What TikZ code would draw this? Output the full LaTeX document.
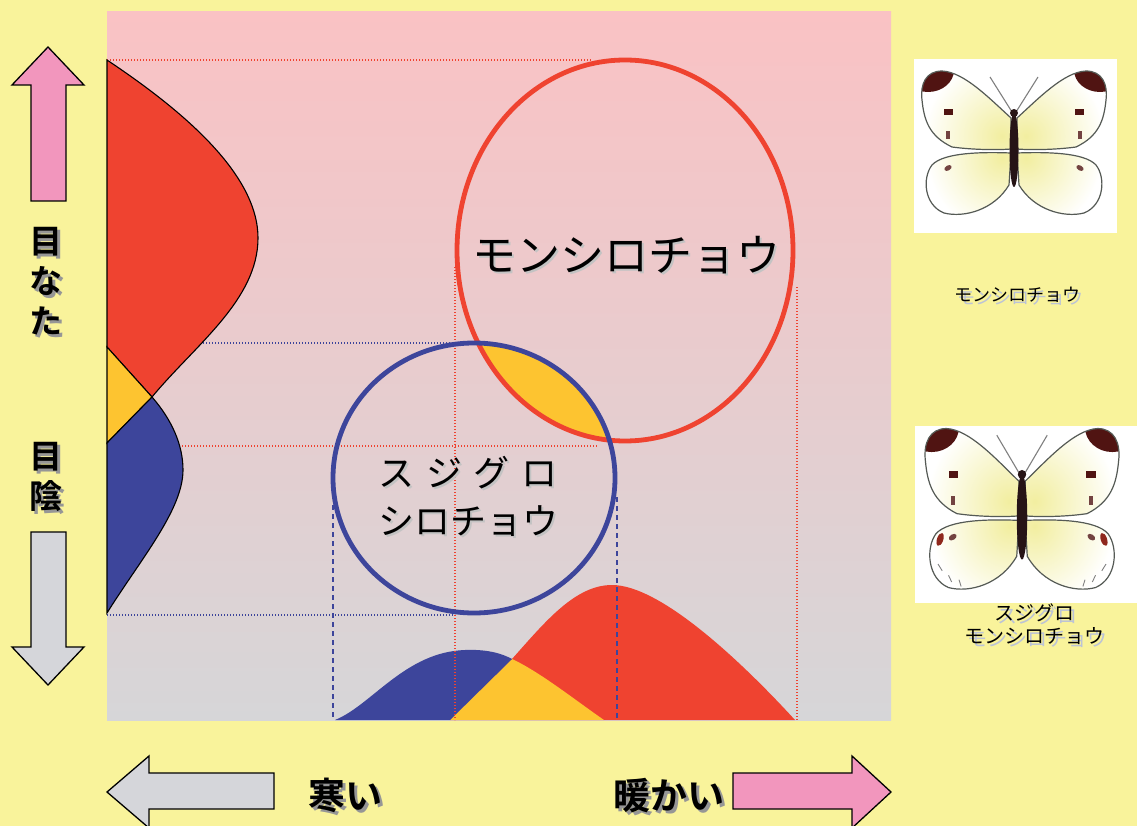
\documentclass[tikz,border=0pt]{standalone}
\usepackage{fontspec}
\newfontfamily\jp{Noto Sans CJK JP}
\newfontfamily\jpbold{Noto Sans CJK JP Bold}
\usetikzlibrary{calc}

\definecolor{bgyellow}{RGB}{249,243,155}
\definecolor{paneltop}{RGB}{250,194,196}
\definecolor{panelbot}{RGB}{214,214,216}
\definecolor{cred}{RGB}{239,67,48}
\definecolor{cblue}{RGB}{61,69,155}
\definecolor{cyel}{RGB}{253,196,48}
\definecolor{apink}{RGB}{242,150,189}
\definecolor{agray}{RGB}{213,214,218}
\definecolor{shgray}{RGB}{150,150,150}
\definecolor{shlight}{RGB}{195,195,195}
\definecolor{shblue}{RGB}{188,195,214}
\definecolor{wingfill}{RGB}{242,238,160}
\definecolor{wingline}{RGB}{85,90,85}
\definecolor{wingdark}{RGB}{80,20,18}
\definecolor{bodydark}{RGB}{38,20,22}

% text with a drop shadow: offset, shadow colour, text
\newcommand\shd[3]{\leavevmode\rlap{\kern#1\raisebox{-#1}{\color{#2}#3}}#3}

% wing outlines (left side, body centre at the origin)
\newcommand\forewing{(-3,-32) .. controls (-25,-52) and (-50,-78) .. (-72,-79)
    .. controls (-88,-79) and (-94,-66) .. (-92,-50)
    .. controls (-90,-30) and (-85,-14) .. (-62,-3)
    .. controls (-40,0) and (-15,0) .. (-3,-1) -- cycle}
\newcommand\hindwing{(-3,3) .. controls (-30,2) and (-70,2) .. (-82,15)
    .. controls (-92,28) and (-90,55) .. (-70,63)
    .. controls (-50,68) and (-20,60) .. (-5,35) -- cycle}

% one half of a butterfly
\newcommand\bfhalf{%
  \fill[white] \hindwing;
  \fill[white] \forewing;
  \begin{scope}
    \clip \hindwing;
    \shade[inner color=wingfill, outer color=white] (-12,8) circle [radius=75];
  \end{scope}
  \begin{scope}
    \clip \forewing;
    \shade[inner color=wingfill, outer color=white] (-12,-14) circle [radius=78];
    \fill[wingdark] (-86,-80) ellipse [x radius=26, y radius=22];
  \end{scope}
  \draw[wingline, line width=1.2] \hindwing;
  \draw[wingline, line width=1.2] \forewing;
  \fill[wingdark] (-70,-41) rectangle (-61,-35);
  \fill[wingdark!80] (-68,-19) rectangle (-64,-11);
  \fill[wingdark!80, rotate around={30:(-66,18)}] (-66,18) ellipse [x radius=4, y radius=2.5];
  \draw[gray, line width=1.1] (-2,-38) -- (-24,-73);
}

\tikzset{
  panelline/.style={line width=1.1, dash pattern=on 1.2pt off 1.8pt},
  bluedash/.style={cblue, line width=1.2, dash pattern=on 5pt off 4pt},
  curveedge/.style={draw=black, line width=1.1},
  blockarrow/.style={draw=black, line width=1.3, line join=miter},
  ring/.style={line width=4.8},
  biglabel/.style={font=\jp\fontsize{44}{50}\selectfont, inner sep=0},
  midlabel/.style={font=\jp\fontsize{36}{48}\selectfont, inner sep=0, align=center},
  sidelabel/.style={font=\jpbold\fontsize{33}{40}\selectfont, inner sep=0, align=center},
  axislabel/.style={font=\jpbold\fontsize{37}{40}\selectfont, inner sep=0},
  smalllabel/.style={font=\jp\fontsize{18}{23}\selectfont, inner sep=0, align=center},
}

\begin{document}
\begin{tikzpicture}[x=1pt, y=-1pt]
\useasboundingbox (0,0) rectangle (1137,826);
\fill[bgyellow] (0,0) rectangle (1137,826);

% plotting panel
\shade[top color=paneltop, bottom color=panelbot] (107,12) rectangle (891,720);

% bottom distributions (temperature)
\fill[cred] (450,720) -- (512,659) .. controls (545,622) and (575,585) .. (612,585)
  .. controls (660,585) and (740,660) .. (795,720) -- cycle;
\fill[cyel] (450,720) -- (512,659) .. controls (540,672) and (575,700) .. (604,720) -- cycle;
\fill[cblue] (335,720) .. controls (372,705) and (405,652) .. (465,650)
  .. controls (488,649) and (503,654) .. (512,659) -- (450,720) -- cycle;

% guide lines
\draw[panelline, cred]  (107,60)  -- (592,60);
\draw[panelline, cblue] (107,343) -- (453,343);
\draw[panelline, cred]  (107,446) -- (597,446);
\draw[panelline, cblue] (107,615) -- (455,615);
\draw[panelline, cred]  (455,267) -- (455,720);
\draw[panelline, cred]  (797,287) -- (797,720);
\draw[bluedash] (333,505) -- (333,720);
\draw[bluedash] (617,497) -- (617,720);

% left distributions (sunlight)
\filldraw[fill=cred, curveedge] (107,60) .. controls (185,112) and (258,175) .. (258,238)
  .. controls (258,300) and (195,345) .. (152,397) -- (107,347) -- cycle;
\filldraw[fill=cyel, curveedge] (107,347) -- (152,397) -- (107,443) -- cycle;
\filldraw[fill=cblue, curveedge] (107,443) -- (152,397) .. controls (172,420) and (183,445) .. (183,470)
  .. controls (183,510) and (140,560) .. (107,613) -- cycle;

% overlap of the two ranges
\begin{scope}
  \clip (625,250.5) ellipse [x radius=168, y radius=190.5];
  \fill[cyel] (474,478) ellipse [x radius=141, y radius=135];
\end{scope}
\draw[cred, ring]  (625,250.5) ellipse [x radius=168, y radius=190.5];
\draw[cblue, ring] (474,478) ellipse [x radius=141, y radius=135];

% range labels
\node[biglabel] (monshiro) at (626,256) {\shd{2pt}{shlight}{モンシロチョウ}};
\node[midlabel] (sujiguro) at (468,497) {\shd{2pt}{shlight}{\makebox[179pt]{ス\hfill ジ\hfill グ\hfill ロ}}\\
  \shd{2pt}{shlight}{シロチョウ}};

% axis arrows
\filldraw[fill=apink, blockarrow] (48,47) -- (84,85) -- (66,85) -- (66,201) -- (31,201) -- (31,85) -- (12,85) -- cycle;
\filldraw[fill=agray, blockarrow] (31,532) -- (66,532) -- (66,647) -- (84,647) -- (48,685) -- (12,647) -- (31,647) -- cycle;
\filldraw[fill=agray, blockarrow] (107,792) -- (149,756) -- (149,773) -- (274,773) -- (274,809) -- (149,809) -- (149,828) -- cycle;
\filldraw[fill=apink, blockarrow] (891,792) -- (852,756) -- (852,773) -- (733,773) -- (733,809) -- (852,809) -- (852,828) -- cycle;

% axis labels
\node[sidelabel] (sunny) at (46,283) {\shd{3pt}{shgray}{目}\\ \shd{3pt}{shgray}{な}\\ \shd{3pt}{shgray}{た}};
\node[sidelabel] (shade) at (46,478) {\shd{3pt}{shgray}{目}\\ \shd{3pt}{shgray}{陰}};
\node[axislabel] (cold) at (345,797) {\shd{3pt}{shgray}{寒い}};
\node[axislabel] (warm) at (669,797) {\shd{3pt}{shgray}{暖かい}};

% butterfly pictures
\fill[white] (914,59) rectangle (1117,233);
\fill[white] (915,426) rectangle (1137,603);
\begin{scope}[shift={(1014,150)}]
  \bfhalf
  \begin{scope}[xscale=-1]\bfhalf\end{scope}
  \fill[bodydark] (0,0) ellipse [x radius=4.5, y radius=37];
  \fill[bodydark] (0,-37) circle [radius=4];
\end{scope}
\begin{scope}[shift={(1022,517)}, xscale=1.05, yscale=1.12]
  \bfhalf
  \begin{scope}[xscale=-1]\bfhalf\end{scope}
  \fill[bodydark] (0,0) ellipse [x radius=5, y radius=38];
  \fill[bodydark] (0,-38) circle [radius=4];
  \foreach \s in {1,-1}{
    \begin{scope}[xscale=\s]
      \fill[cred!60!black, rotate around={-20:(-78,20)}] (-78,20) ellipse [x radius=3, y radius=6];
      \draw[gray, line width=0.9] (-80,42) -- (-76,48) (-70,52) -- (-67,58) (-60,56) -- (-58,62);
    \end{scope}
  }
\end{scope}

% butterfly names
\node[smalllabel] (lbl1) at (1017,296) {\shd{3pt}{shblue}{モンシロチョウ}};
\node[smalllabel, font=\jp\fontsize{20}{23}\selectfont] (lbl2) at (1034,626)
  {\shd{3pt}{shblue}{スジグロ}\\ \shd{3pt}{shblue}{モンシロチョウ}};
\end{tikzpicture}
\end{document}
